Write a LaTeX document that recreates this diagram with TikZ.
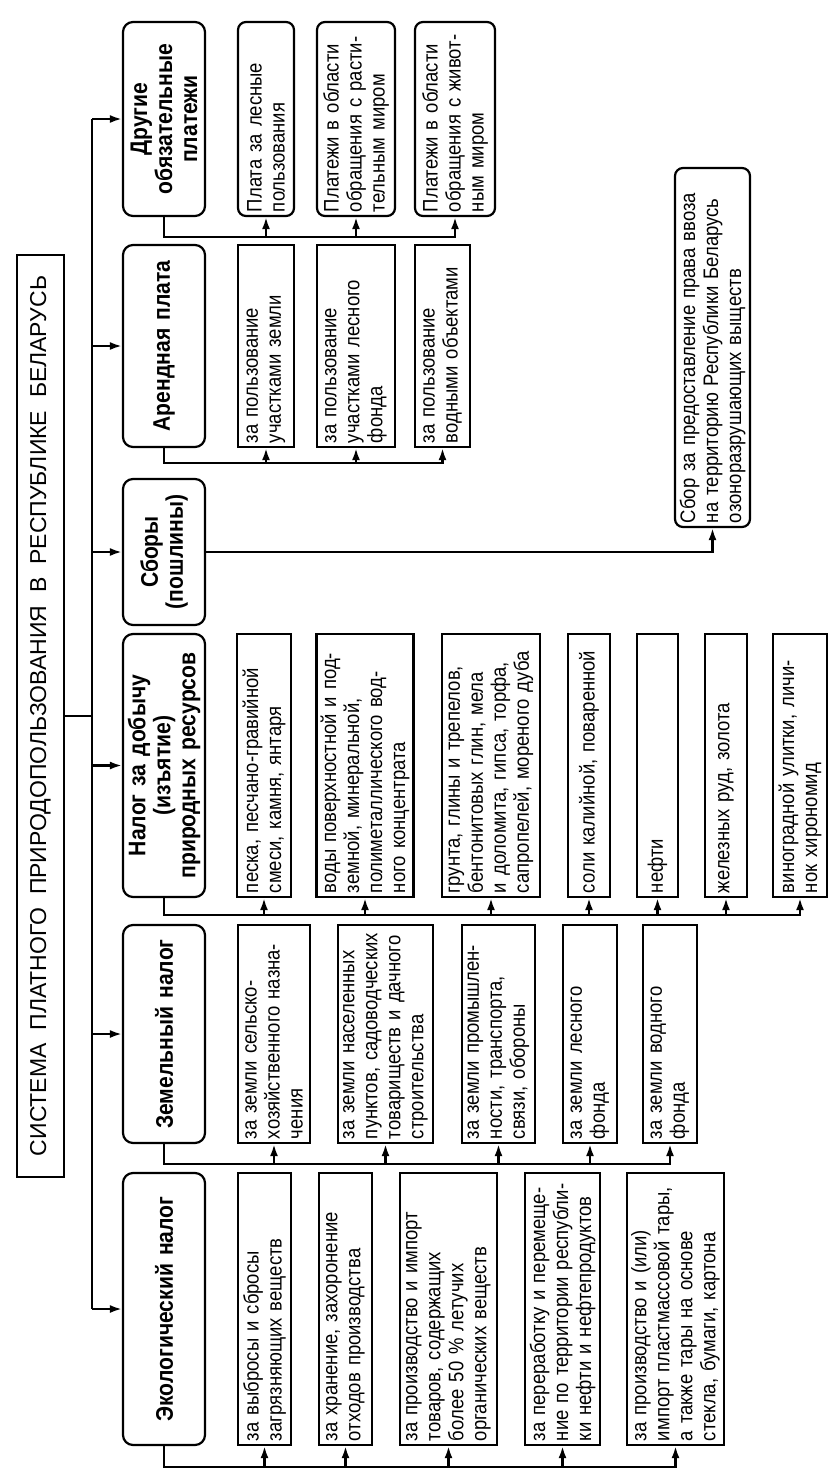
\documentclass[tikz,border=0pt]{standalone}
\usepackage{fontspec}
\setmainfont{Liberation Sans}[FakeStretch=0.88]
\newfontfamily\titlefont{Liberation Sans}
\usetikzlibrary{arrows.meta}

\begin{document}
\begin{tikzpicture}[x=0.5pt, y=-0.5pt,
    every node/.style={rotate=90, inner xsep=2pt, inner ysep=2pt},
    box/.style={draw, line width=1.1pt, align=left, font=\fontsize{10.5}{11.5}\selectfont},
    rbox/.style={box, rounded corners=4pt},
    mainbox/.style={draw, line width=1.1pt, rounded corners=5pt, align=center, inner ysep=1pt,
        minimum height=41pt, font=\fontsize{12}{12.5}\selectfont\bfseries},
    lnk/.style={line width=1.1pt},
    arr/.style={line width=1.1pt, -{Latex[length=6pt,width=4pt]}}]
    \useasboundingbox (0,0) rectangle (838,1484);

    \node[draw, line width=1.1pt, minimum width=461pt, minimum height=23.5pt,
        font=\titlefont\fontsize{11.5}{13}\selectfont] (title) at (40.5,716)
        {СИСТЕМА\ \ ПЛАТНОГО\ \ ПРИРОДОПОЛЬЗОВАНИЯ\ \ В\ \ РЕСПУБЛИКЕ\ \ БЕЛАРУСЬ};

    % main boxes
    \node[mainbox, text width=93pt] (drug) at (164,119) {Другие\\обязательные\\платежи};
    \node[mainbox, text width=97pt] (arend) at (164,346) {Арендная плата};
    \node[mainbox, text width=69pt] (sbory) at (164,552) {Сборы\\(пошлины)};
    \node[mainbox, text width=127.5pt] (nalog) at (164,765.5) {Налог за добычу\\(изъятие)\\природных ресурсов};
    \node[mainbox, text width=105pt] (zem) at (164,1034) {Земельный налог};
    \node[mainbox, text width=132pt] (eco) at (164,1309) {Экологический налог};

    % other payments
    \node[rbox, text width=93pt, minimum height=28pt] (d1) at (266,119) {Плата за лесные\\пользования};
    \node[rbox, text width=93pt, minimum height=39pt] (d2) at (356,119) {Платежи в области\\обращения с расти-\\тельным миром};
    \node[rbox, text width=93pt, minimum height=40pt] (d3) at (455,119) {Платежи в области\\обращения с живот-\\ным миром};

    % rent
    \node[box, text width=97pt, minimum height=28pt] (a1) at (266,346) {за пользование\\участками земли};
    \node[box, text width=97pt, minimum height=39pt] (a2) at (356,346) {за пользование\\участками лесного\\фонда};
    \node[box, text width=97pt, minimum height=27.5pt] (a3) at (442.5,346) {за пользование\\водными объектами};

    % fees
    \node[rbox, text width=175.5pt, minimum height=37.5pt] (s1) at (712.5,347.5) {Сбор за предоставление права ввоза\\на территорию Республики Беларусь\\озоноразрушающих выществ};

    % extraction tax
    \node[box, text width=127.5pt, minimum height=27pt] (n1) at (264,765.5) {песка, песчано-гравийной\\смеси, камня, янтаря};
    \node[box, text width=127.5pt, minimum height=48pt] (n2) at (365,765.5) {воды поверхностной и под-\\земной, минеральной,\\полиметаллического вод-\\ного концентрата};
    \node[box, text width=127.5pt, minimum height=49pt] (n3) at (491,765.5) {грунта, глины и трепелов,\\бентонитовых глин, мела\\и доломита, гипса, торфа,\\сапропелей, мореного дуба};
    \node[box, text width=127.5pt, minimum height=21pt] (n4) at (589,765.5) {соли калийной, поваренной};
    \node[box, text width=127.5pt, minimum height=20.5pt] (n5) at (657.5,765.5) {нефти};
    \node[box, text width=127.5pt, minimum height=21pt] (n6) at (726,765.5) {железных руд, золота};
    \node[box, text width=127.5pt, minimum height=27pt] (n7) at (800,765.5) {виноградной улитки, личи-\\нок хирономид};

    % land tax
    \node[box, text width=105pt, minimum height=36pt] (z1) at (274,1034) {за земли сельско-\\хозяйственного назна-\\чения};
    \node[box, text width=105pt, minimum height=47.5pt] (z2) at (385.5,1034) {за земли населенных\\пунктов, садоводческих\\товариществ и дачного\\строительства};
    \node[box, text width=105pt, minimum height=36.5pt] (z3) at (498.5,1034) {за земли промышлен-\\ности, транспорта,\\связи, обороны};
    \node[box, text width=105pt, minimum height=27pt] (z4) at (590,1034) {за земли лесного\\фонда};
    \node[box, text width=105pt, minimum height=27pt] (z5) at (670,1034) {за земли водного\\фонда};

    % ecological tax
    \node[box, text width=132pt, minimum height=26.5pt] (e1) at (264.5,1309) {за выбросы и сбросы\\загрязняющих веществ};
    \node[box, text width=132pt, minimum height=26.5pt] (e2) at (345.5,1309) {за хранение, захоронение\\отходов производства};
    \node[box, text width=132pt, minimum height=48.5pt] (e3) at (448.5,1309) {за производство и импорт\\товаров, содержащих\\более 50 \% летучих\\органических веществ};
    \node[box, text width=132pt, minimum height=37.5pt] (e4) at (562.5,1309) {за переработку и перемеще-\\ние по территории республи-\\ки нефти и нефтепродуктов};
    \node[box, text width=132pt, minimum height=47.5pt] (e5) at (675.5,1309) {за производство и (или)\\импорт пластмассовой тары,\\а также тары на основе\\стекла, бумаги, картона};

    \coordinate (sp) at (92,0);
    \coordinate (ld) at (0,237);
    \coordinate (la) at (0,463);
    \coordinate (ln) at (0,915);
    \coordinate (lz) at (0,1164);
    \coordinate (le) at (0,1467);

    \draw[lnk] (title.south) -- (title.south -| sp);
    \draw[lnk] (drug.north -| sp) -- (eco.north -| sp);
    \foreach \m in {drug,arend,sbory,nalog,zem,eco}
        \draw[arr] (\m.north -| sp) -- (\m.north);

    \draw[arr] (drug.west) |- (d3.west |- ld) -- (d3.west);
    \foreach \m in {d1,d2}
        \draw[arr] (\m.west |- ld) -- (\m.west);

    \draw[arr] (arend.west) |- (a3.west |- la) -- (a3.west);
    \foreach \m in {a1,a2}
        \draw[arr] (\m.west |- la) -- (\m.west);

    \draw[arr] (sbory.south) -| (s1.west);

    \draw[arr] (nalog.west) |- (n7.west |- ln) -- (n7.west);
    \foreach \m in {n1,n2,n3,n4,n5,n6}
        \draw[arr] (\m.west |- ln) -- (\m.west);

    \draw[arr] (zem.west) |- (z5.west |- lz) -- (z5.west);
    \foreach \m in {z1,z2,z3,z4}
        \draw[arr] (\m.west |- lz) -- (\m.west);

    \draw[arr] (eco.west) |- (e5.west |- le) -- (e5.west);
    \foreach \m in {e1,e2,e3,e4}
        \draw[arr] (\m.west |- le) -- (\m.west);
\end{tikzpicture}
\end{document}
